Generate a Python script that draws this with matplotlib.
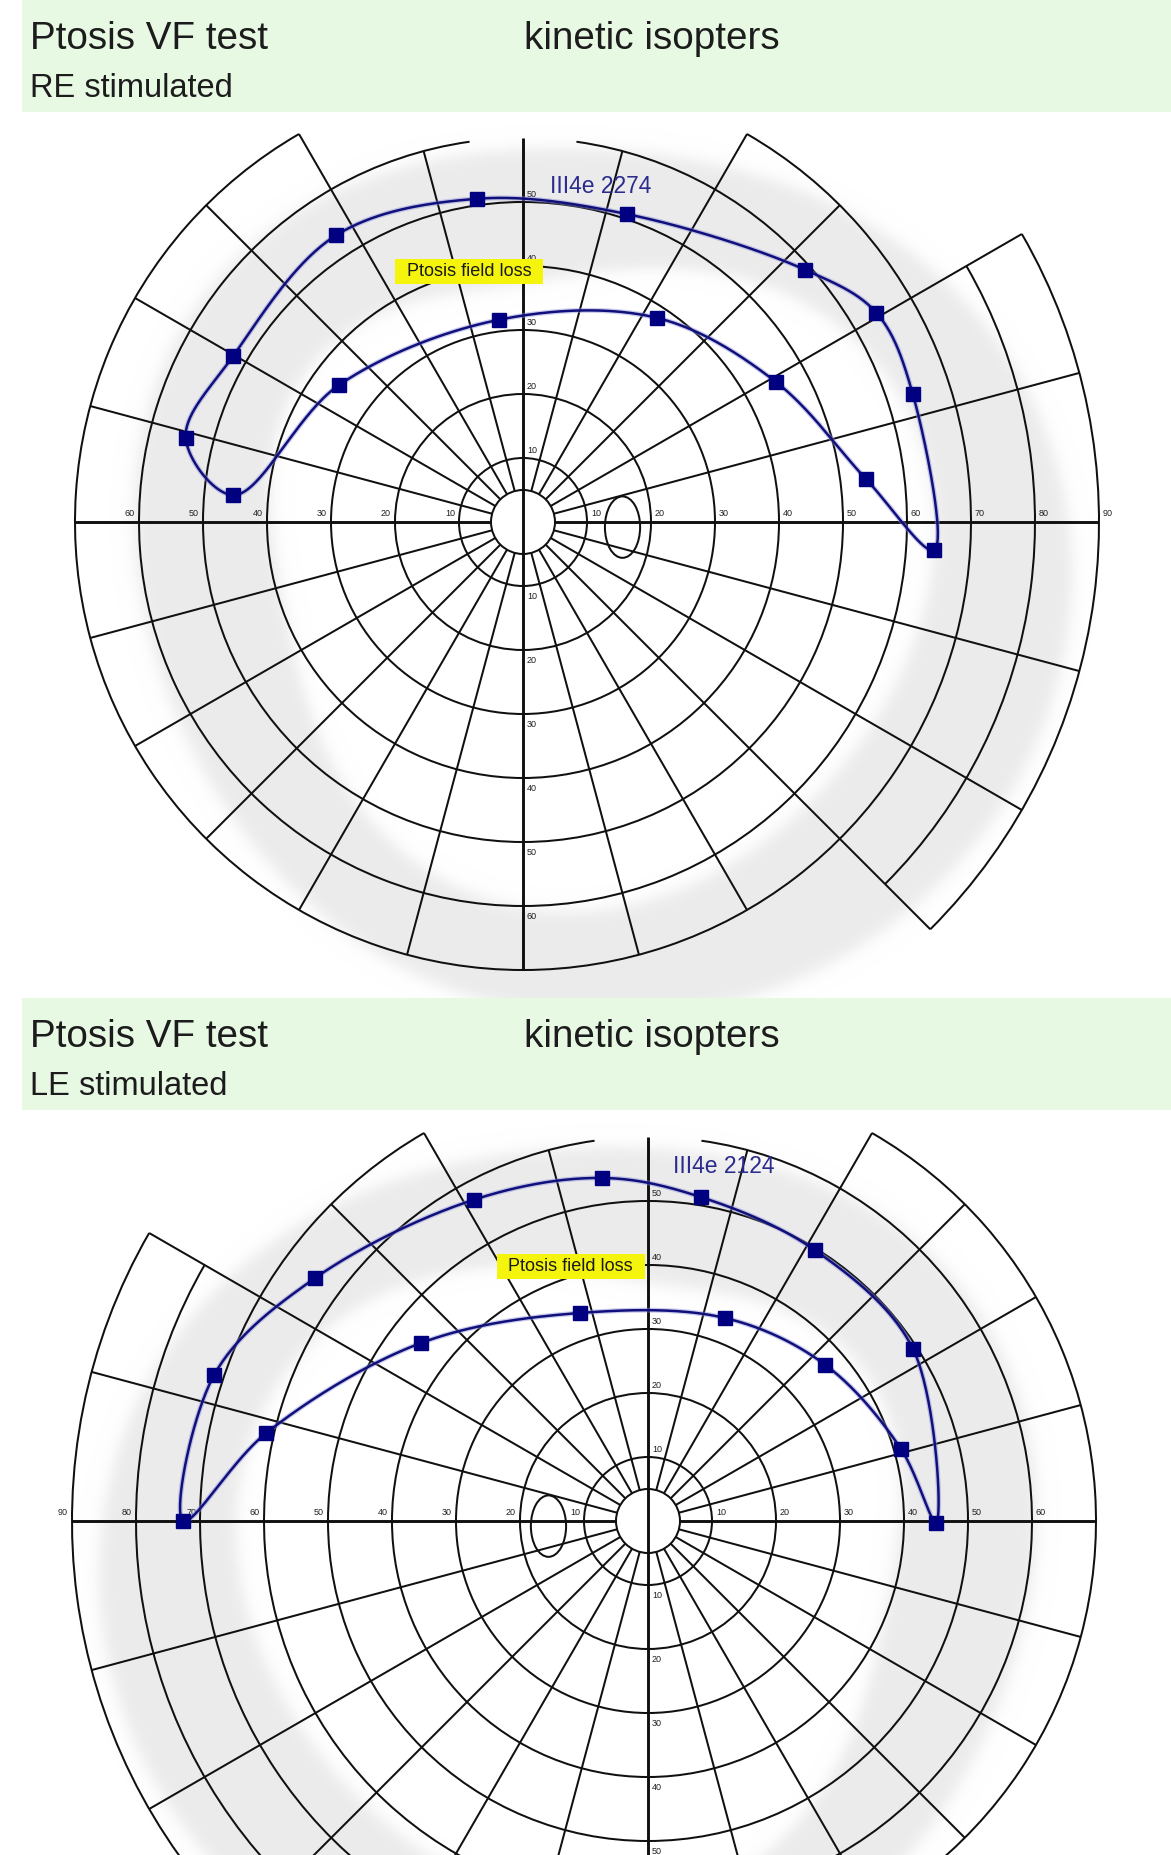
import numpy as np
import matplotlib
matplotlib.use("Agg")
import matplotlib.pyplot as plt
from matplotlib.patches import Arc, Circle, Ellipse, Rectangle

plt.rcParams['font.family'] = ['Liberation Sans', 'DejaVu Sans']

# ---------------- data ----------------
# III4e kinetic isopter, right eye stimulated (x: degrees right of fixation, y: degrees up)
re_x = [-7.2, 16.3, 44.1, 55.2, 60.9, 64.2, 53.6, 39.5, 20.9, -3.75, -28.75, -45.3, -52.7, -45.3, -29.2]
re_y = [50.5, 48.1, 39.4, 32.7, 20.0, -4.4, 6.7, 21.9, 31.9, 31.6, 21.4, 4.2, 13.1, 25.9, 44.8]
# III4e kinetic isopter, left eye stimulated
le_x = [-72.6, -67.8, -52.1, -27.2, -7.2, 8.3, 26.1, 41.4, 45.0, 39.5, 27.7, 12.1, -10.7, -35.5, -59.7]
le_y = [0.0, 22.8, 37.9, 50.2, 53.6, 50.6, 42.3, 26.9, -0.3, 11.3, 24.4, 31.7, 32.5, 27.8, 13.7]

re_label = "III4e 2274"
le_label = "III4e 2124"
note_text = "Ptosis field loss"
titles = ["Ptosis VF test", "kinetic isopters"]
eye_titles = ["RE stimulated", "LE stimulated"]

# tick labels along the meridians (temporal side first, for the right eye)
temporal_ticks = [10, 20, 30, 40, 50, 60, 70, 80, 90]
nasal_ticks = [10, 20, 30, 40, 50, 60]
upper_ticks = [10, 20, 30, 40, 50]
lower_ticks = [10, 20, 30, 40, 50, 60]

# ---------------- chart form (right-eye orientation) ----------------
full_rings = [5, 10, 20, 30, 40, 50]
partial_rings = [(60, 98, 442), (70, 120, 420), (80, -45, 30), (90, -45, 30)]
meridian_reach = {0: 90, 15: 90, 30: 90, 45: 70, 60: 70, 75: 60, 90: 60, 105: 60,
                  120: 70, 135: 70, 150: 70, 165: 70, 180: 70, 195: 70, 210: 70,
                  225: 70, 240: 70, 255: 70, 270: 70, 285: 70, 300: 70, 315: 90,
                  330: 90, 345: 90}
band_angles = [0, 45, 90, 135, 180, 225, 270, 315]
band_outer = [84, 71, 57, 62, 59.5, 66, 75, 87]
band_inner = [65, 52, 38, 40, 40, 45, 61, 62]

W, H, DPI = 1171, 1855, 100
SCALE = 6.4  # pixels per degree
INK = '#101010'
NAVY = '#10107c'
GRID_LW = 1.45
AXIS_LW = 2.1

fig = plt.figure(figsize=(W / DPI, H / DPI), dpi=DPI)
fig.patch.set_facecolor('white')


def header(top_px, eye_text):
    band = Rectangle((22 / W, 1 - (top_px + 112) / H), 1 - 22 / W, 112 / H,
                     transform=fig.transFigure, facecolor='#e7f8e3',
                     edgecolor='none', zorder=-5)
    fig.patches.append(band)
    fig.text(30 / W, 1 - (top_px + 49) / H, titles[0], fontsize=27.8,
             color='#1c1c1c', va='baseline', ha='left')
    fig.text(524 / W, 1 - (top_px + 49) / H, titles[1], fontsize=27.8,
             color='#1c1c1c', va='baseline', ha='left')
    fig.text(30 / W, 1 - (top_px + 97) / H, eye_text, fontsize=23.5,
             color='#1c1c1c', va='baseline', ha='left')


def chart_axes(cx, cy, top_px, bottom_px):
    ax = fig.add_axes([0, 1 - bottom_px / H, 1, (bottom_px - top_px) / H])
    ax.set_xlim(-cx / SCALE, (W - cx) / SCALE)
    ax.set_ylim((cy - bottom_px) / SCALE, (cy - top_px) / SCALE)
    ax.axis('off')
    ax.patch.set_alpha(0)
    return ax


def trig_fit(angles, values, harmonics=3):
    th = np.radians(angles)
    cols = [np.ones_like(th)]
    for k in range(1, harmonics + 1):
        cols += [np.cos(k * th), np.sin(k * th)]
    coef, *_ = np.linalg.lstsq(np.column_stack(cols), np.asarray(values, float), rcond=None)

    def f(t):
        t = np.radians(t)
        out = coef[0] * np.ones_like(t)
        for k in range(1, harmonics + 1):
            out += coef[2 * k - 1] * np.cos(k * t) + coef[2 * k] * np.sin(k * t)
        return out
    return f


def draw_band(ax, m):
    x0, x1 = ax.get_xlim()
    y0, y1 = ax.get_ylim()
    X, Y = np.meshgrid(np.linspace(x0, x1, 900), np.linspace(y0, y1, 700))
    th = np.degrees(np.arctan2(Y, X * m)) % 360
    r = np.hypot(X, Y)
    fo = trig_fit(band_angles, band_outer)
    fi = trig_fit(band_angles, band_inner)
    s = 0.7
    a = 1 / (1 + np.exp(-(fo(th) - r) / s)) / (1 + np.exp(-(r - fi(th)) / s))
    img = np.zeros(X.shape + (4,))
    img[..., :3] = 0.922
    img[..., 3] = a
    ax.imshow(img, extent=(x0, x1, y0, y1), origin='lower', zorder=0,
              interpolation='bilinear', aspect='auto')


def draw_grid(ax, m):
    for r in full_rings:
        ax.add_patch(Circle((0, 0), r, fill=(r == 5), facecolor='white',
                            edgecolor=INK, lw=GRID_LW, zorder=2))
    for r, t1, t2 in partial_rings:
        if m < 0:
            t1, t2 = 180 - t2, 180 - t1
        ax.add_patch(Arc((0, 0), 2 * r, 2 * r, theta1=t1, theta2=t2,
                         edgecolor=INK, lw=GRID_LW, zorder=2))
    for ang, reach in meridian_reach.items():
        a = np.radians(ang if m > 0 else 180 - ang)
        ca, sa = np.cos(a), np.sin(a)
        if ang in (90, 270):
            continue
        lw = AXIS_LW if ang in (0, 180) else GRID_LW
        ax.plot([5 * ca, reach * ca], [5 * sa, reach * sa], color=INK, lw=lw,
                solid_capstyle='butt', zorder=2)
    ax.plot([0, 0], [-meridian_reach[270], meridian_reach[90]], color=INK,
            lw=AXIS_LW, solid_capstyle='butt', zorder=2)
    # physiological blind spot
    ax.add_patch(Ellipse((15.55 * m, -0.8), 5.5, 9.6, fill=False,
                         edgecolor=INK, lw=GRID_LW, zorder=2))
    kw = dict(fontsize=6.5, color='#202020', ha='center', va='center', zorder=3)
    for v in temporal_ticks:
        ax.text(m * (v + 1.4), 1.4, str(v), **kw)
    for v in nasal_ticks:
        ax.text(-m * (v + 1.4), 1.4, str(v), **kw)
    for v in upper_ticks:
        ax.text(1.4, v + 1.1, str(v), **kw)
    for v in lower_ticks:
        ax.text(1.4, -(v + 1.6), str(v), **kw)


def catmull_rom_closed(x, y, n=40, alpha=0.5):
    P = np.column_stack([x, y]).astype(float)
    N = len(P)
    out = []
    for i in range(N):
        p0, p1, p2, p3 = P[(i - 1) % N], P[i], P[(i + 1) % N], P[(i + 2) % N]
        t0 = 0.0
        t1 = t0 + np.linalg.norm(p1 - p0) ** alpha
        t2 = t1 + np.linalg.norm(p2 - p1) ** alpha
        t3 = t2 + np.linalg.norm(p3 - p2) ** alpha
        t = np.linspace(t1, t2, n, endpoint=False)[:, None]
        A1 = (t1 - t) / (t1 - t0) * p0 + (t - t0) / (t1 - t0) * p1
        A2 = (t2 - t) / (t2 - t1) * p1 + (t - t1) / (t2 - t1) * p2
        A3 = (t3 - t) / (t3 - t2) * p2 + (t - t2) / (t3 - t2) * p3
        B1 = (t2 - t) / (t2 - t0) * A1 + (t - t0) / (t2 - t0) * A2
        B2 = (t3 - t) / (t3 - t1) * A2 + (t - t1) / (t3 - t1) * A3
        out.append((t2 - t) / (t2 - t1) * B1 + (t - t1) / (t2 - t1) * B2)
    out.append(P[:1])
    return np.vstack(out)


def draw_isopter(ax, xs, ys, label, label_xy):
    curve = catmull_rom_closed(xs, ys)
    ax.plot(curve[:, 0], curve[:, 1], color='#8c8cd8', lw=3.6, alpha=0.45, zorder=5)
    ax.plot(curve[:, 0], curve[:, 1], color=NAVY, lw=1.8, zorder=6)
    ax.plot(xs, ys, ls='none', marker='s', ms=9.5, color='#000080', zorder=7)
    ax.text(label_xy[0], label_xy[1], label, fontsize=16.5, color='#2b2b8e',
            ha='left', va='baseline', zorder=8)


def draw_note(ax, center):
    w, h = 148 / SCALE, 25 / SCALE
    ax.add_patch(Rectangle((center[0] - w / 2, center[1] - h / 2), w, h,
                           facecolor='#f4f40c', edgecolor='none', zorder=4))
    ax.text(center[0], center[1], note_text, fontsize=13, color='#1a1a1a',
            ha='center', va='center', zorder=4.5)


# ---- right eye ----
header(0, eye_titles[0])
ax1 = chart_axes(523, 522, 112, 998)
draw_band(ax1, 1)
draw_grid(ax1, 1)
draw_note(ax1, (-8.4, 39.1))
draw_isopter(ax1, re_x, re_y, re_label, (4.2, 51.4))

# ---- left eye ----
header(998, eye_titles[1])
ax2 = chart_axes(648, 1521, 1110, 1855)
draw_band(ax2, -1)
draw_grid(ax2, -1)
draw_note(ax2, (-12.1, 39.8))
draw_isopter(ax2, le_x, le_y, le_label, (3.9, 54.4))

fig.savefig("out.png", dpi=DPI)
